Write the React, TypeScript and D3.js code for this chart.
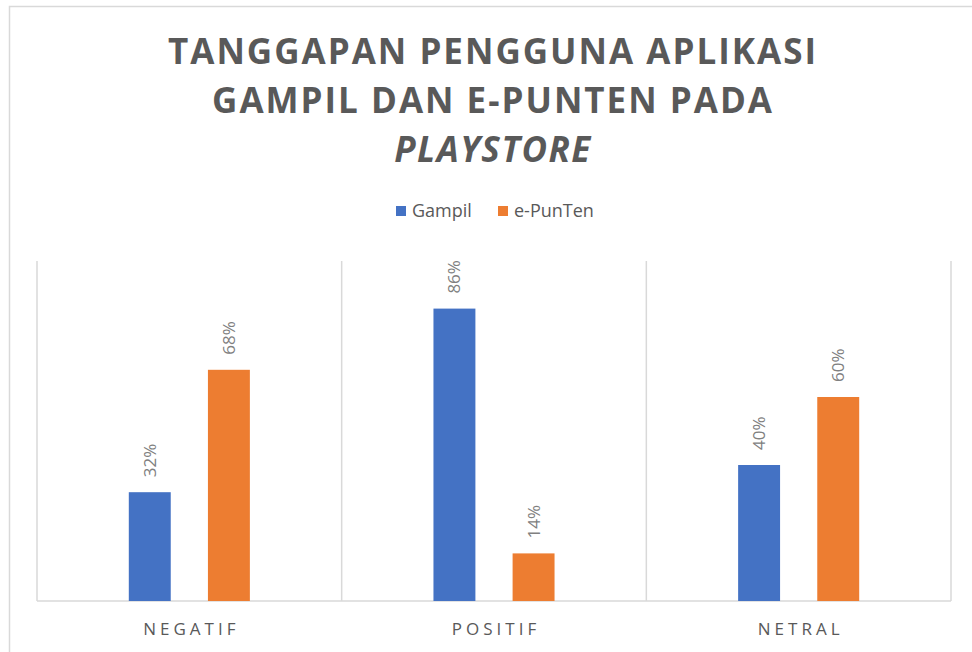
import React from 'react';
import * as d3 from 'd3';

const categories = ['NEGATIF', 'POSITIF', 'NETRAL'];
const seriesNames = ['Gampil', 'e-PunTen'];
const gampil = [0.32, 0.86, 0.4];
const ePunten = [0.68, 0.14, 0.6];
const titleLines = ['TANGGAPAN PENGGUNA APLIKASI', 'GAMPIL DAN E-PUNTEN PADA', 'PLAYSTORE'];

const colors = ['#4472c4', '#ed7d31'];

export default function App() {
  const width = 972;
  const height = 652;
  const plot = { left: 37, right: 951, top: 261, bottom: 601 };

  const x0 = d3.scaleBand().domain(categories).range([plot.left, plot.right]);
  const x1 = d3
    .scaleBand()
    .domain(seriesNames)
    .range([0, x0.bandwidth()])
    .paddingInner(0.47)
    .paddingOuter(1.16);
  const y = d3.scaleLinear().domain([0, 1]).range([plot.bottom, plot.top]);
  const pct = d3.format('.0%');

  const values = [gampil, ePunten];
  const bars = categories.flatMap((c, i) =>
    seriesNames.map((s, j) => ({ cat: c, series: s, value: values[j][i], color: colors[j] }))
  );

  // vertical separators at band edges
  const edges = categories.map(c => x0(c)!).concat([plot.right]);

  const font = '"Open Sans", "Liberation Sans", sans-serif';

  return (
    <svg
      width={width}
      height={height}
      style={{ position: 'absolute', left: 0, top: 0, background: '#fff' }}
      fontFamily={font}
    >
      <rect x={9.5} y={6.5} width={1000} height={700} fill="#fff" stroke="#d9d9d9" strokeWidth={1.5} />

      {titleLines.map((t, i) => (
        <text
          key={t}
          x={493}
          y={64 + i * 49}
          textAnchor="middle"
          fontSize={35}
          fontWeight="bold"
          fontStyle={i === 2 ? 'italic' : 'normal'}
          fill="#595959"
          letterSpacing={i === 2 ? 1.5 : 2}
        >
          {t}
        </text>
      ))}

      {/* legend */}
      {seriesNames.map((s, j) => {
        const lx = j === 0 ? 396 : 498;
        return (
          <g key={s} transform={`translate(${lx},211)`}>
            <rect x={0} y={-5} width={10} height={10} fill={colors[j]} />
            <text x={16} dy="0.35em" fontSize={18} fill="#595959">
              {s}
            </text>
          </g>
        );
      })}

      {/* gridlines */}
      {edges.map((e, i) => (
        <line key={i} x1={e} x2={e} y1={plot.top} y2={plot.bottom} stroke="#d9d9d9" strokeWidth={1.5} />
      ))}
      <line x1={plot.left} x2={plot.right} y1={plot.bottom} y2={plot.bottom} stroke="#d9d9d9" strokeWidth={1.5} />

      {bars.map(b => {
        const bx = x0(b.cat)! + x1(b.series)!;
        const cx = bx + x1.bandwidth() / 2;
        const top = y(b.value);
        return (
          <g key={b.cat + b.series}>
            <rect x={bx} y={top} width={x1.bandwidth()} height={y(0) - top} fill={b.color} />
            <text
              transform={`translate(${cx},${top - 15}) rotate(-90)`}
              dy="0.35em"
              fontSize={17}
              fill="#808080"
            >
              {pct(b.value)}
            </text>
          </g>
        );
      })}

      {categories.map(c => (
        <text
          key={c}
          x={x0(c)! + x0.bandwidth() / 2 + 2}
          y={635}
          textAnchor="middle"
          fontSize={17}
          letterSpacing={4}
          fill="#595959"
        >
          {c}
        </text>
      ))}
    </svg>
  );
}
